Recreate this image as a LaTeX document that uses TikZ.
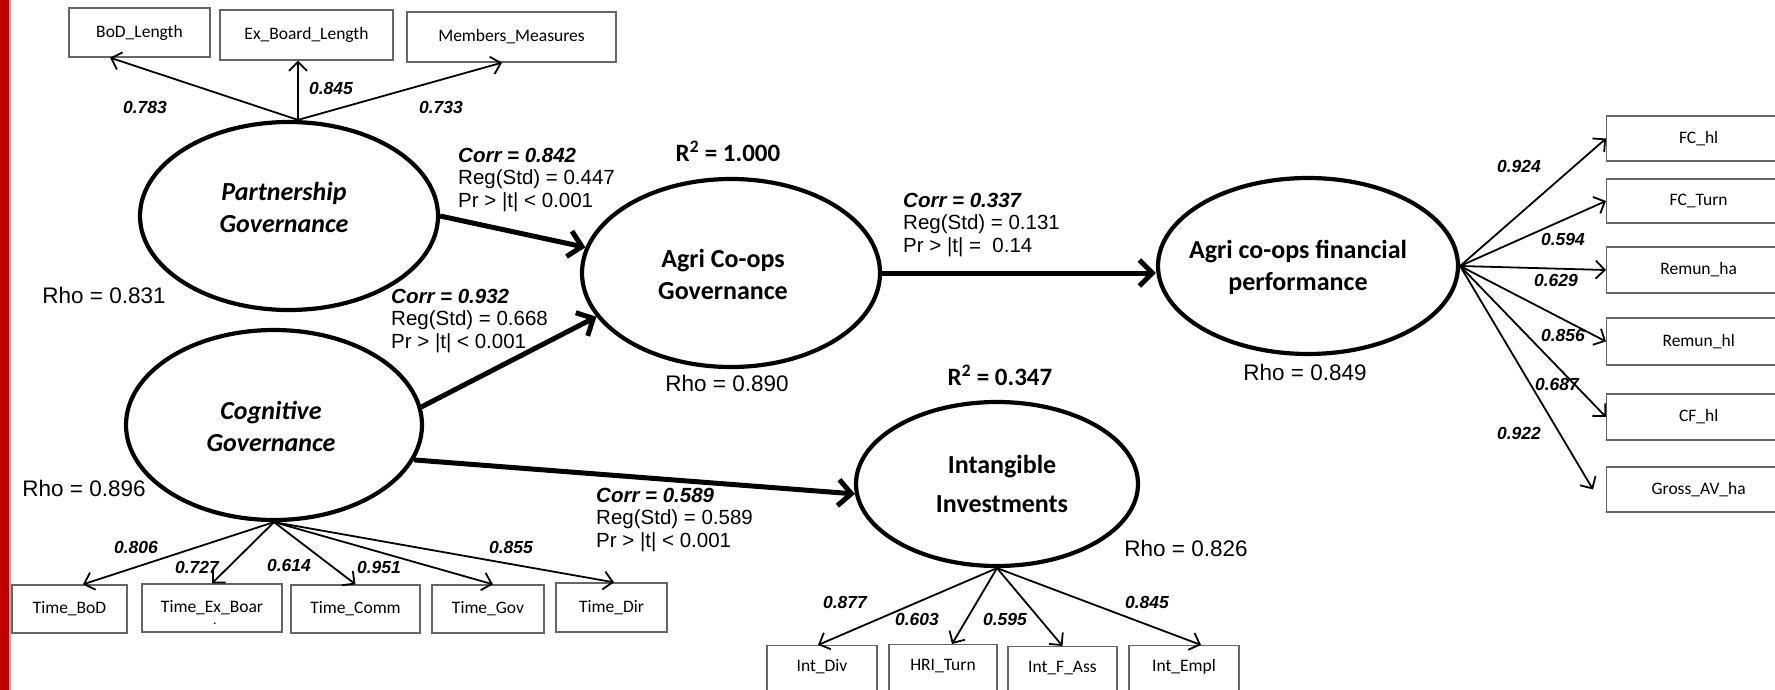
\documentclass[tikz,border=0pt]{standalone}
\usepackage{fontspec}
\setmainfont{Liberation Sans}
\newfontfamily\carl{Carlito}
\usetikzlibrary{arrows.meta,shapes.geometric}
\definecolor{barred}{RGB}{192,0,0}
\definecolor{barpink}{RGB}{240,150,150}
\begin{document}
\begin{tikzpicture}[x=1pt,y=-1pt,
  lat/.style={draw, line width=4.2pt, ellipse, inner sep=0pt},
  lattext/.style={align=center, inner sep=0pt, font=\carl\fontsize{26}{32}\selectfont\bfseries},
  ind/.style={draw=black!60, line width=1.3pt, inner sep=0pt, font=\carl\fontsize{17.5}{20}\selectfont},
  indlow/.style={ind, anchor=north, inner ysep=14pt, text height=12pt, text depth=40pt},
  indright/.style={ind, anchor=west, minimum width=184pt},
  load/.style={line width=1.8pt, -{Straight Barb[length=9pt,width=18pt]}},
  path/.style={line width=5pt, -{Straight Barb[length=13pt,width=26pt]}},
  ld/.style={inner sep=0pt, font=\fontsize{17.5}{20}\selectfont\bfseries\itshape},
  est/.style={anchor=west, align=left, inner sep=0pt, font=\fontsize{20.5}{22.5}\selectfont},
  rho/.style={inner sep=0pt, font=\fontsize{22.5}{25}\selectfont},
  rsq/.style={inner sep=0pt, font=\carl\fontsize{25}{28}\selectfont\bfseries}]
\useasboundingbox (0,0) rectangle (1775,690);
\clip (0,0) rectangle (1775,690);
\fill[white] (0,0) rectangle (1775,690);
\fill[barred] (0,0) rectangle (9,690);
\fill[barpink] (9,0) rectangle (10.5,690);

% latent variables
\node[lat, minimum width=298pt, minimum height=188pt] (P) at (289,216) {};
\node[lat, minimum width=296pt, minimum height=190pt] (C) at (274,425) {};
\node[lat, minimum width=298pt, minimum height=188pt] (A) at (731,273) {};
\node[lat, minimum width=300pt, minimum height=176pt] (F) at (1308,266) {};
\node[lat, minimum width=282pt, minimum height=164pt] (I) at (997,484) {};

\node[lattext, font=\carl\fontsize{26}{32}\selectfont\bfseries\itshape] (Pt) at (284,207) {Partnership\\Governance};
\node[lattext, font=\carl\fontsize{26}{32}\selectfont\bfseries\itshape] (Ct) at (271,426) {Cognitive\\Governance};
\node[lattext] (At) at (723,274) {Agri Co-ops\\Governance};
\node[lattext] (Ft) at (1298,267) {Agri co-ops financial\\performance};
\node[lattext, font=\carl\fontsize{26}{39}\selectfont\bfseries] (It) at (1002,484) {Intangible\\Investments};

% indicators
\node[ind, minimum width=141pt, minimum height=49pt] (bod) at (139.5,32.5) {BoD\_Length};
\node[ind, minimum width=173pt, minimum height=50pt] (exb) at (306.5,35) {Ex\_Board\_Length};
\node[ind, minimum width=209pt, minimum height=50pt] (mem) at (511.5,37) {Members\_Measures};

\node[ind, minimum width=115pt, minimum height=48pt] (tbod) at (69.5,609) {Time\_BoD};
\node[ind, minimum width=140pt, minimum height=48pt] (texb) at (212,608) {Time\_Ex\_Boar};
\node[inner sep=0pt, font=\carl\fontsize{14}{16}\selectfont] (texbdot) at (215,624) {.};
\node[ind, minimum width=129pt, minimum height=48pt] (tcom) at (355.5,609) {Time\_Comm};
\node[ind, minimum width=112pt, minimum height=48pt] (tgov) at (488,609) {Time\_Gov};
\node[ind, minimum width=111pt, minimum height=49pt] (tdir) at (611.5,607.5) {Time\_Dir};

\node[indlow, minimum width=110pt] (idiv) at (822,645) {Int\_Div};
\node[indlow, minimum width=108pt] (hri) at (943,644) {HRI\_Turn};
\node[indlow, minimum width=109pt] (ifa) at (1062.5,646) {Int\_F\_Ass};
\node[indlow, minimum width=110pt] (iemp) at (1184,645) {Int\_Empl};

\node[indright, minimum height=45pt] (fchl) at (1606,138.5) {FC\_hl};
\node[indright, minimum height=44pt] (fct) at (1606,201) {FC\_Turn};
\node[indright, minimum height=46pt] (rha) at (1606,270) {Remun\_ha};
\node[indright, minimum height=47pt] (rhl) at (1606,341.5) {Remun\_hl};
\node[indright, minimum height=46pt] (cfhl) at (1606,417) {CF\_hl};
\node[indright, minimum height=45pt] (gav) at (1606,489.5) {Gross\_AV\_ha};

% loadings
\coordinate (pO) at ([xshift=9pt]P.north);
\draw[load] (pO) -- ([xshift=-29.5pt]bod.south);
\draw[load] (pO) -- ([xshift=-8.5pt]exb.south);
\draw[load] (pO) -- ([xshift=-9.5pt]mem.south);

\draw[load] (C.south) -- ([xshift=13.5pt]tbod.north);
\draw[load] (C.south) -- (texb.north);
\draw[load] (C.south) -- (tcom.north);
\draw[load] (C.south) -- ([xshift=5pt]tgov.north);
\draw[load] (C.south) -- ([xshift=2.5pt]tdir.north);

\draw[load] (I.south) -- ([xshift=-4pt]idiv.north);
\draw[load] (I.south) -- ([xshift=9pt]hri.north);
\draw[load] (I.south) -- (ifa.north);
\draw[load] (I.south) -- ([xshift=17pt]iemp.north);

\draw[load] (F.east) -- (fchl.west);
\draw[load] (F.east) -- (fct.west);
\draw[load] (F.east) -- (rha.west);
\draw[load] (F.east) -- (rhl.west);
\draw[load] (F.east) -- (cfhl.west);
\draw[load] (F.east) -- ([xshift=-13pt]gav.west);

% structural paths
\draw[path] (P.east) -- (A.170);
\draw[path] (C.7) -- (A.198);
\draw[path] (A.east) -- (A.east -| F.west);
\draw[path] (C.346) -- (I.184);

% loading labels
\node[ld] (l1) at (145,107) {0.783};
\node[ld] (l2) at (331,88) {0.845};
\node[ld] (l3) at (441,107) {0.733};
\node[ld] (l4) at (136,547) {0.806};
\node[ld] (l5) at (197,567) {0.727};
\node[ld] (l6) at (289,565) {0.614};
\node[ld] (l7) at (379,567) {0.951};
\node[ld] (l8) at (511,547) {0.855};
\node[ld] (l9) at (845,602) {0.877};
\node[ld] (l10) at (917,619) {0.603};
\node[ld] (l11) at (1005,619) {0.595};
\node[ld] (l12) at (1147,602) {0.845};
\node[ld] (l13) at (1519,166) {0.924};
\node[ld] (l14) at (1563,239) {0.594};
\node[ld] (l15) at (1556,280) {0.629};
\node[ld] (l16) at (1563,335) {0.856};
\node[ld] (l17) at (1557,384) {0.687};
\node[ld] (l18) at (1519,433) {0.922};

% path estimates
\node[est] (e1) at (458,180) {\textbf{\textit{Corr = 0.842}}\\Reg(Std) = 0.447\\Pr > |t| < 0.001};
\node[est] (e2) at (391,321) {\textbf{\textit{Corr = 0.932}}\\Reg(Std) = 0.668\\Pr > |t| < 0.001};
\node[est] (e3) at (903,225) {\textbf{\textit{Corr = 0.337}}\\Reg(Std) = 0.131\\Pr > |t| =\ \ 0.14};
\node[est] (e4) at (596,520) {\textbf{\textit{Corr = 0.589}}\\Reg(Std) = 0.589\\Pr > |t| < 0.001};

% rho and R2
\node[rho] (r1) at (104,295) {Rho = 0.831};
\node[rho] (r2) at (84,488) {Rho = 0.896};
\node[rho] (r3) at (727,383) {Rho = 0.890};
\node[rho] (r4) at (1305,372) {Rho = 0.849};
\node[rho] (r5) at (1186,548) {Rho = 0.826};
\node[rsq] (q1) at (728,151) {R\textsuperscript{2} = 1.000};
\node[rsq] (q2) at (1000,375) {R\textsuperscript{2} = 0.347};
\end{tikzpicture}
\end{document}
